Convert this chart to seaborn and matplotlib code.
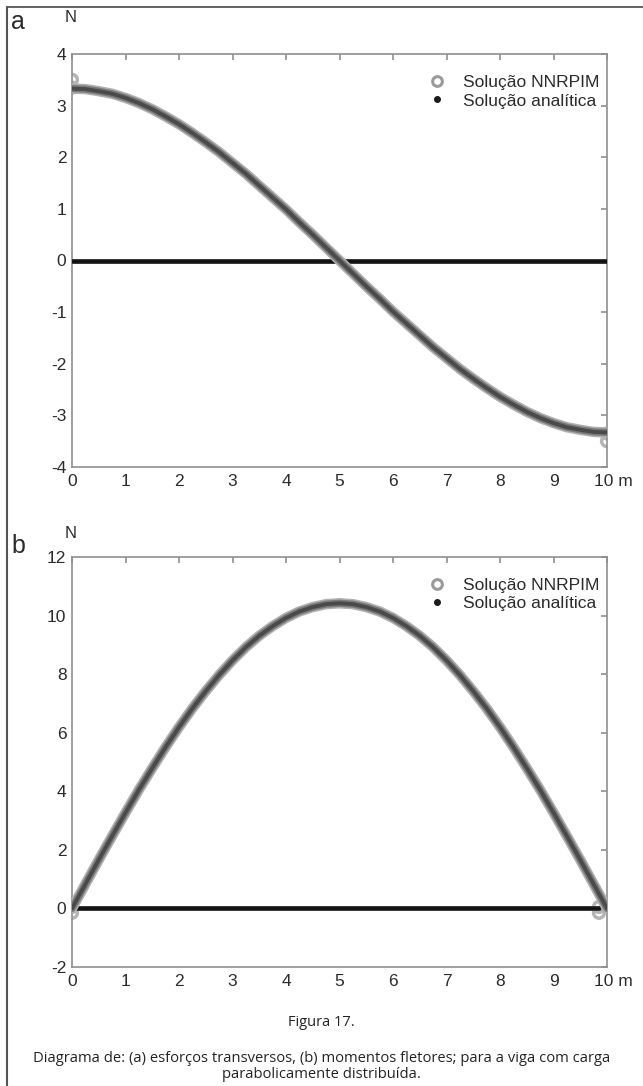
import numpy as np
import pandas as pd
import matplotlib
matplotlib.use("Agg")
import matplotlib.pyplot as plt
import matplotlib.transforms as mtrans
from matplotlib.lines import Line2D
import seaborn as sns

# ---------------- data ----------------
x_pos = [0, 0.25, 0.5, 0.75, 1, 1.25, 1.5, 1.75, 2, 2.25, 2.5, 2.75, 3, 3.25, 3.5, 3.75,
         4, 4.25, 4.5, 4.75, 5, 5.25, 5.5, 5.75, 6, 6.25, 6.5, 6.75, 7, 7.25, 7.5, 7.75,
         8, 8.25, 8.5, 8.75, 9, 9.25, 9.5, 9.75, 10]
shear_vals = [3.33, 3.32, 3.28, 3.23, 3.15, 3.05, 2.93, 2.79, 2.64, 2.47, 2.29, 2.10,
              1.89, 1.68, 1.45, 1.22, 0.99, 0.74, 0.50, 0.25, 0.0,
              -0.25, -0.50, -0.74, -0.99, -1.22, -1.45, -1.68, -1.89, -2.10, -2.29, -2.47,
              -2.64, -2.79, -2.93, -3.05, -3.15, -3.23, -3.28, -3.32, -3.33]
moment_vals = [0.0, 0.83, 1.66, 2.47, 3.27, 4.05, 4.79, 5.51, 6.19, 6.83, 7.42, 7.97,
               8.47, 8.92, 9.31, 9.64, 9.92, 10.14, 10.29, 10.39, 10.42,
               10.39, 10.29, 10.14, 9.92, 9.64, 9.31, 8.92, 8.47, 7.97, 7.42, 6.83,
               6.19, 5.51, 4.79, 4.05, 3.27, 2.47, 1.66, 0.83, 0.0]
zero_a_x = [0, 10]
zero_b_x = [0.1, 9.85]
zero_y = [0, 0]
ends_a_x = [0, 0, 10, 10]
ends_a_y = [3.5, 3.35, -3.5, -3.35]
ends_b_x = [0, 0, 9.85, 9.85]
ends_b_y = [-0.15, 0.05, -0.15, 0.05]

x_ticks = list(range(0, 11))
x_labels = ["0", "1", "2", "3", "4", "5", "6", "7", "8", "9", "10 m"]
ya_ticks = [-4, -3, -2, -1, 0, 1, 2, 3, 4]
ya_labels = ["-4", "-3", "-2", "-1", "0", "1", "2", "3", "4"]
yb_ticks = [-2, 0, 2, 4, 6, 8, 10, 12]
yb_labels = ["-2", "0", "2", "4", "6", "8", "10", "12"]
legend_labels = ["Solução NNRPIM", "Solução analítica"]
panel_letters = ["a", "b"]
unit_label = "N"
fig_title = "Figura 17."
caption_lines = ["Diagrama de: (a) esforços transversos, (b) momentos fletores; para a viga com carga",
                 "parabolicamente distribuída."]

# ---------------- style ----------------
sns.set_style("white")
plt.rcParams['font.family'] = ['Liberation Sans', 'DejaVu Sans']

fig = plt.figure(figsize=(6.43, 10.86), dpi=100)
W, H = 643, 1086

def fx(px):
    return px / W

def fy(py):
    return 1 - py / H

spine_col = '#8f8f8f'
text_col = '#2b2b2b'

ax_a = fig.add_axes([fx(72), fy(467), fx(607) - fx(72), fy(54) - fy(467)])
ax_b = fig.add_axes([fx(72), fy(967), fx(607) - fx(72), fy(557) - fy(967)])

df_a = pd.DataFrame({"x": x_pos, "y": shear_vals})
df_b = pd.DataFrame({"x": x_pos, "y": moment_vals})

for ax, df, zx, ex, ey, yt, yl, ylim in [
        (ax_a, df_a, zero_a_x, ends_a_x, ends_a_y, ya_ticks, ya_labels, (-4, 4)),
        (ax_b, df_b, zero_b_x, ends_b_x, ends_b_y, yb_ticks, yb_labels, (-2, 12))]:
    # end artefacts of the numerical solution
    ax.scatter(ex, ey, s=60, facecolors='none', edgecolors='#b5b5b5', linewidths=2.5, zorder=2)
    # zero line
    sns.lineplot(x=zx, y=zero_y, ax=ax, color='#3a3a3a', lw=3.6, zorder=3)
    sns.lineplot(x=zx, y=zero_y, ax=ax, color='#111111', lw=2.0, zorder=3)
    # NNRPIM band (dense open circles) + analytic core
    for col, lw, z in [('#b0b0b0', 7.5, 4), ('#7a7a7a', 5.2, 4), ('#4a4a4a', 2.8, 5)]:
        sns.lineplot(data=df, x="x", y="y", ax=ax, color=col, lw=lw, zorder=z,
                     solid_capstyle='round', solid_joinstyle='round')

    ax.set_xlim(0, 10)
    ax.set_ylim(*ylim)
    ax.set_xticks(x_ticks)
    ax.set_xticklabels(x_labels)
    ax.set_yticks(yt)
    ax.set_yticklabels(yl)
    ax.set_xlabel("")
    ax.set_ylabel("")
    for s in ax.spines.values():
        s.set_color(spine_col)
        s.set_linewidth(1.2)
        s.set_visible(True)
    ax.tick_params(axis='both', which='both', direction='in', length=4, width=1.2,
                   color=spine_col, top=True, right=True, labelsize=12.5,
                   labelcolor=text_col, pad=5)
    ax.tick_params(axis='y', pad=4)
    lab = ax.get_xticklabels()[-1]
    lab.set_horizontalalignment('left')
    lab.set_transform(lab.get_transform() + mtrans.ScaledTranslation(-0.13, 0, fig.dpi_scale_trans))

    handles = [Line2D([], [], ls='none', marker='o', ms=7, mfc='none', mec='#9a9a9a', mew=2.2),
               Line2D([], [], ls='none', marker='o', ms=4, color='#1a1a1a')]
    ax.legend(handles, legend_labels, loc='upper right', frameon=False, fontsize=12.5,
              bbox_to_anchor=(1.005, 0.975), handlelength=1.2, handletextpad=0.9,
              labelspacing=0.2, labelcolor=text_col, borderaxespad=0.2)

# panel letters and unit labels
fig.text(fx(18), fy(22), panel_letters[0], fontsize=18, color=text_col, ha='center', va='center')
fig.text(fx(71), fy(17), unit_label, fontsize=12, color=text_col, ha='center', va='center')
fig.text(fx(18), fy(546), panel_letters[1], fontsize=18, color=text_col, ha='center', va='center')
fig.text(fx(71), fy(533), unit_label, fontsize=12, color=text_col, ha='center', va='center')

# caption
cap_font = ['Open Sans', 'DejaVu Sans']
fig.text(0.5, fy(1022), fig_title, fontsize=10.5, family=cap_font,
         color='#222222', ha='center', va='center')
fig.text(0.5, fy(1058), caption_lines[0], fontsize=10.6, family=cap_font,
         color='#222222', ha='center', va='center')
fig.text(0.5, fy(1075), caption_lines[1], fontsize=10.6, family=cap_font,
         color='#222222', ha='center', va='center')

# outer frame lines (top and left)
fig.add_artist(Line2D([fx(7), 1.0], [fy(7), fy(7)], color='#555555', lw=1.3))
fig.add_artist(Line2D([fx(7), fx(7)], [fy(7), 0.0], color='#555555', lw=1.5))

fig.savefig("out.png", dpi=100)
